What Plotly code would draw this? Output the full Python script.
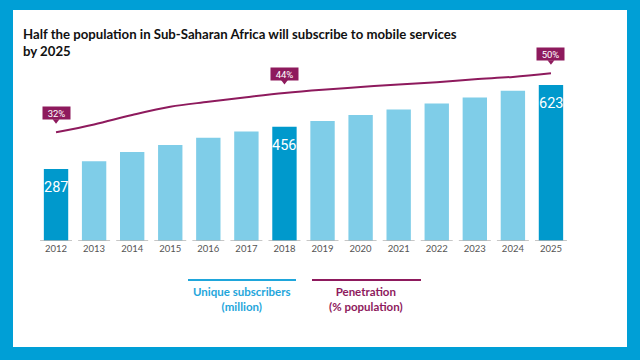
import plotly.graph_objects as go

years = ["2012", "2013", "2014", "2015", "2016", "2017", "2018",
         "2019", "2020", "2021", "2022", "2023", "2024", "2025"]
subscribers = [287, 318, 355, 383, 412, 437, 456, 479, 503, 525, 549, 573, 600, 623]
penetration = [32, 34.4, 37.3, 39.8, 41.3, 42.7, 44, 45.0, 45.8, 46.6, 47.3, 48.2, 48.9, 50]
highlight_years = ["2012", "2018", "2025"]

DARK_BLUE = "#0099cc"
LIGHT_BLUE = "#7fcde8"
MAGENTA = "#8e1a5d"
FRAME = "#009fd6"
NARROW = "Roboto, sans-serif"

L, R, T, B = 37, 70, 10, 119
W, H = 640, 360
pw = W - L - R
ph = H - T - B

Y2_RANGE = [-1.16, 69.3]
pointer_px = 11.5
pointer_shift = pointer_px * (Y2_RANGE[1] - Y2_RANGE[0]) / ph
Y3_RANGE = [Y2_RANGE[0] - pointer_shift, Y2_RANGE[1] - pointer_shift]

bar_colors = [DARK_BLUE if y in highlight_years else LIGHT_BLUE for y in years]
hl_years = [y for y in years if y in highlight_years]
hl_pen = [p for y, p in zip(years, penetration) if y in highlight_years]

fig = go.Figure()
fig.add_trace(go.Bar(x=years, y=subscribers, marker_color=bar_colors,
                     marker_line_width=0, hoverinfo="skip"))
fig.add_trace(go.Scatter(x=years, y=penetration, yaxis="y2", mode="lines",
                         line=dict(color=MAGENTA, width=2, shape="spline"),
                         hoverinfo="skip"))
fig.add_trace(go.Scatter(x=hl_years, y=hl_pen, yaxis="y3", mode="markers",
                         marker=dict(symbol="triangle-down", size=6, color=MAGENTA,
                                     line_width=0),
                         hoverinfo="skip"))

def px_x(p):
    return (p - L) / pw

def px_y(p):
    return (H - B - p) / ph

shapes = [
    dict(type="rect", xref="paper", yref="paper", x0=px_x(13), x1=px_x(627),
         y0=px_y(347), y1=px_y(10), fillcolor="white", line_width=0, layer="below"),
    dict(type="line", xref="paper", yref="paper", x0=px_x(188), x1=px_x(296),
         y0=px_y(280), y1=px_y(280), line=dict(color="#1fa6db", width=2)),
    dict(type="line", xref="paper", yref="paper", x0=px_x(312), x1=px_x(421),
         y0=px_y(280), y1=px_y(280), line=dict(color=MAGENTA, width=2)),
]
for i, y in enumerate(years):
    shapes.append(dict(type="line", xref="x", yref="y", x0=i - 0.42, x1=i + 0.42,
                       y0=0, y1=0, line=dict(color="#b5b5b5", width=1.5)))

annotations = [
    dict(xref="paper", yref="paper", x=px_x(21), y=px_y(24), xanchor="left", yanchor="top",
         text="<b>Half the population in Sub-Saharan Africa will subscribe to mobile services<br>by 2025</b>",
         showarrow=False, align="left",
         font=dict(family="Lato, Open Sans, sans-serif", size=13.2, color="#111111")),
    dict(xref="paper", yref="paper", x=px_x(241.5), y=px_y(283), xanchor="center", yanchor="top",
         text="<b>Unique subscribers<br>(million)</b>", showarrow=False, align="center",
         font=dict(family="Lato, Open Sans, sans-serif", size=11.5, color="#1fa6db")),
    dict(xref="paper", yref="paper", x=px_x(366), y=px_y(283), xanchor="center", yanchor="top",
         text="<b>Penetration<br>(% population)</b>", showarrow=False, align="center",
         font=dict(family="Lato, Open Sans, sans-serif", size=11.5, color=MAGENTA)),
]

for i, (y, v, p) in enumerate(zip(years, subscribers, penetration)):
    if y in highlight_years:
        annotations.append(dict(x=i, y=v, xref="x", yref="y", yanchor="top", yshift=-8,
                                text=str(v), showarrow=False,
                                font=dict(family=NARROW, size=14.5, color="white")))
        annotations.append(dict(x=i, y=p, xref="x", yref="y2", yanchor="bottom", yshift=12,
                                text=f"{p:.0f}%", showarrow=False, bgcolor=MAGENTA,
                                borderpad=0, width=27, height=12, valign="middle",
                                font=dict(family=NARROW, size=9.5, color="white")))

fig.update_layout(
    width=W, height=H,
    margin=dict(l=L, r=R, t=T, b=B),
    paper_bgcolor=FRAME, plot_bgcolor="rgba(0,0,0,0)",
    showlegend=False, bargap=0.36,
    xaxis=dict(type="category", range=[-0.5, 13.5], showgrid=False, showline=False,
               zeroline=False, ticks="", tickfont=dict(family="Lato, sans-serif", size=9.5, color="#555555")),
    yaxis=dict(range=[0, 922], visible=False, showgrid=False, zeroline=False),
    yaxis2=dict(range=Y2_RANGE, overlaying="y", visible=False, showgrid=False, zeroline=False),
    yaxis3=dict(range=Y3_RANGE, overlaying="y", visible=False, showgrid=False, zeroline=False),
    shapes=shapes, annotations=annotations,
)

fig.write_html("out.html", config={"displayModeBar": False},
               post_script="document.body.style.margin='0';document.body.style.overflow='hidden';")
